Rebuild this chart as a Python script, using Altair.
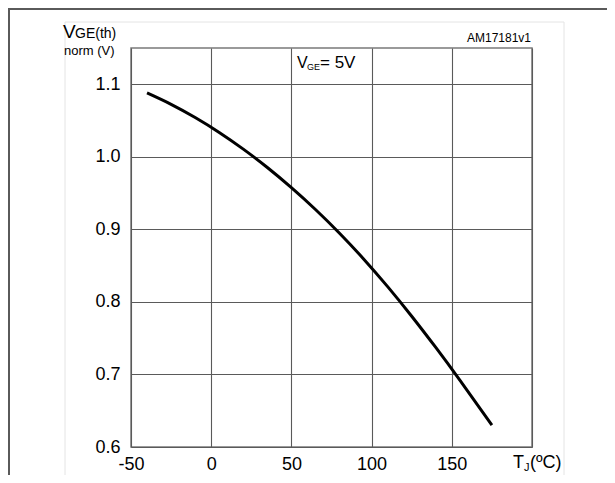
import altair as alt
import pandas as pd

# Curve (Tj in degC, normalised VGE(th))
temps = [-40, -25, -10, 5, 20, 35, 50, 65, 80, 95, 110, 125, 140, 155, 175]
vnorm = [1.088, 1.0723, 1.0541, 1.0336, 1.0106, 0.9853, 0.9575, 0.9274, 0.8947,
         0.8593, 0.8211, 0.7803, 0.7372, 0.6922, 0.6302]
x_ticks = [-50, 0, 50, 100, 150, 200]
y_ticks = [0.6, 0.7, 0.8, 0.9, 1.0, 1.1]

FONT = "Liberation Sans"
df = pd.DataFrame({"T": temps, "V": vnorm})
xs = alt.Scale(domain=[-50, 200], nice=False)
ys = alt.Scale(domain=[0.6, 1.15], nice=False, zero=False)

line = alt.Chart(df).mark_line(color="black", strokeWidth=3, interpolate="natural").encode(
    x=alt.X("T:Q", scale=xs, axis=alt.Axis(
        values=x_ticks, labelExpr="datum.value == 200 ? '' : '' + datum.value", title=None,
        ticks=False, domain=False, grid=True, gridColor="#5a5a5a", gridWidth=1.1,
        labelFontSize=18, labelFont=FONT, labelColor="black", labelPadding=8,
        labelFlush=False, labelOverlap=False)),
    y=alt.Y("V:Q", scale=ys, axis=alt.Axis(
        values=y_ticks, format=".1f", title=None,
        ticks=False, domain=False, grid=True, gridColor="#5a5a5a", gridWidth=1.1,
        labelFontSize=18, labelFont=FONT, labelColor="black", labelPadding=11,
        labelFlush=False, labelOverlap=False)),
)


def one():
    return alt.Data(values=[{"k": 0}])


def hrule(x, x2, y, color, w):
    return alt.Chart(one()).mark_rule(color=color, strokeWidth=w).encode(
        x=alt.value(x), x2=alt.value(x2), y=alt.value(y))


def vrule(x, y, y2, color, w):
    return alt.Chart(one()).mark_rule(color=color, strokeWidth=w).encode(
        x=alt.value(x), y=alt.value(y), y2=alt.value(y2))


def txt(s, x, y, size, align="left"):
    return alt.Chart(one()).mark_text(
        align=align, baseline="alphabetic", fontSize=size, font=FONT, color="black"
    ).encode(x=alt.value(x), y=alt.value(y), text=alt.value(s))


decor = [
    # outer dark frame
    hrule(-123, 476, -39, "#5a5a5a", 2),
    vrule(-122, -40, 427, "#5a5a5a", 2),
    # faint inner box
    hrule(-66, 433, -26, "#e4e4e4", 1),
    vrule(-66, -26, 427, "#e4e4e4", 1),
    vrule(433, -26, 427, "#e4e4e4", 1),
    # y title
    txt("V", -68, -10, 19),
    txt("GE(th)", -56, -10, 14),
    txt("norm (V)", -67, 7, 13),
    # id
    txt("AM17181v1", 400, -6, 12, align="right"),
    # annotation
    txt("V", 166, 20, 16),
    txt("GE", 176, 22, 9),
    txt("= 5V", 189, 20, 17),
    # x title
    txt("T", 382, 420, 18),
    txt("J", 393, 423, 11),
    txt("(ºC)", 399, 420, 18),
]

chart = alt.layer(line, *decor).properties(
    width=401, height=399,
    autosize=alt.AutoSizeParams(type="none"),
    padding={"left": 123, "top": 40, "right": 75, "bottom": 28},
).configure_view(stroke="#7a7a7a", strokeWidth=1.5)

chart.save("out.html", embed_options={"renderer": "svg", "actions": False})
